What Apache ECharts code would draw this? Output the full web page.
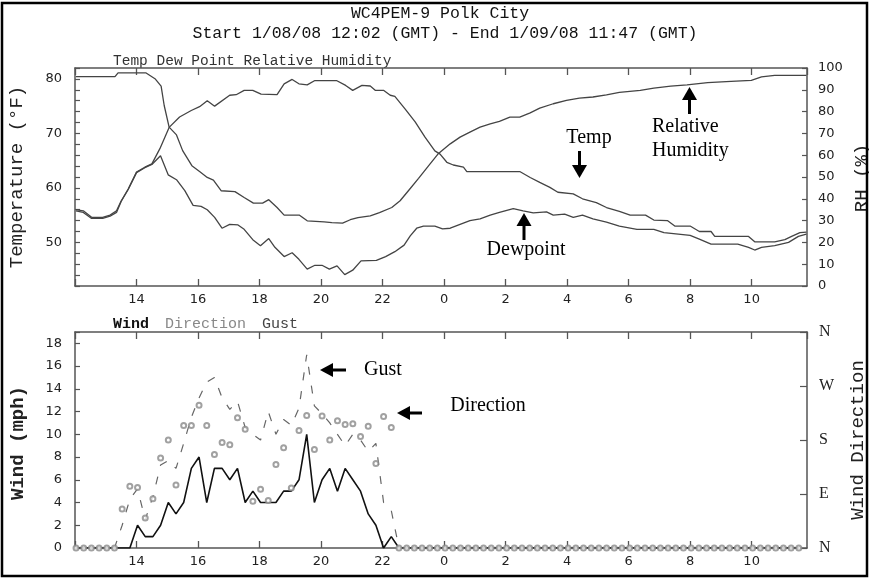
<!DOCTYPE html>
<html><head><meta charset="utf-8">
<script src="https://cdn.jsdelivr.net/npm/echarts@6/dist/echarts.min.js"></script>
<style>html,body{margin:0;padding:0;background:#fff}#c{width:869px;height:578px}</style>
</head><body><div id="c"></div>
<script>
// ---- Top panel data (hours since 1/08 00:00 GMT) ----
const tempX = [12.03,12.27,12.54,12.9,13.14,13.35,13.5,13.73,14.0,14.27,14.5,14.76,15.06,15.4,15.78,16.05,16.3,16.54,17.03,17.24,17.5,17.78,18.05,18.57,18.8,19.06,19.28,19.55,19.8,20.5,20.8,21.03,21.33,21.6,21.76,22.03,22.25,22.4,22.73,23.06,23.38,23.7,23.87,24.09,24.3,24.63,24.74,26.46,26.8,27.11,27.44,27.7,28.2,28.5,28.95,29.28,29.7,30.05,30.55,30.82,31.26,31.5,32.0,32.3,32.68,32.8,33.9,34.1,34.75,35.08,35.3,35.57,35.78];
const tempY = [56.0,55.8,54.6,54.6,55.0,55.8,57.6,59.8,62.9,63.8,64.4,67.2,71.1,73.0,74.2,74.9,76.0,75.0,77.0,77.1,77.9,77.9,77.2,77.1,79.1,79.9,79.1,78.9,79.7,79.7,78.8,77.9,78.8,78.7,77.9,77.9,77.0,76.8,74.5,72.1,69.3,66.8,66.2,64.7,64.2,63.8,63.0,63.0,61.9,61.0,60.1,59.2,58.9,58.0,57.3,56.4,55.7,55.0,55.0,54.1,54.0,53.0,53.0,52.0,52.0,51.1,51.1,50.1,50.1,50.5,51.1,51.8,51.9];

const dewX = [12.03,12.27,12.54,12.9,13.14,13.35,13.5,13.73,14.0,14.27,14.5,14.78,15.03,15.3,15.57,15.84,16.1,16.3,16.54,16.78,17.03,17.3,17.5,17.78,18.03,18.3,18.5,18.8,19.06,19.28,19.55,19.8,20.03,20.27,20.52,20.77,21.03,21.3,21.8,22.1,22.4,22.7,22.9,23.11,23.33,23.7,23.95,24.2,24.52,24.84,25.17,25.5,25.8,26.25,26.57,26.9,27.33,27.55,27.92,28.2,28.5,28.84,29.28,29.7,30.27,30.82,31.15,32.0,32.3,32.68,33.55,33.9,34.1,34.32,34.75,35.2,35.52,35.78];
const dewY = [55.8,55.5,54.4,54.4,54.8,55.5,57.5,59.7,62.8,63.7,64.3,65.9,62.4,61.5,59.5,56.8,56.6,56.0,54.6,52.6,53.3,53.2,52.4,50.5,49.4,50.7,49.1,47.4,48.1,46.9,45.1,45.8,45.8,45.1,45.7,44.1,44.9,46.6,46.7,47.4,48.3,49.5,51.2,52.6,53.0,53.0,52.5,52.6,53.3,54.0,54.3,55.0,55.5,56.2,55.8,55.4,55.6,55.0,55.2,54.6,55.0,54.3,53.7,53.0,52.4,52.4,51.8,51.3,50.6,49.7,49.7,49.1,48.6,49.1,49.4,50.0,51.1,51.5];

const rhX = [12.03,13.3,13.4,14.3,14.6,14.8,14.9,15.06,15.3,15.5,15.8,16.05,16.3,16.5,16.75,17.2,17.5,17.8,18.1,18.3,18.57,18.8,19.3,19.55,20.1,20.35,20.7,20.95,21.2,21.6,21.9,22.3,22.57,22.84,23.17,23.5,23.8,24.2,24.52,24.84,25.17,25.5,25.8,26.14,26.46,26.8,27.11,27.55,27.98,28.4,28.84,29.28,29.7,30.38,30.82,31.37,31.9,32.57,33.33,33.99,34.32,34.75,35.78];
const rhY = [96.0,96.0,97.8,97.8,95.1,91.7,82.8,72.9,69.3,62.1,55.2,52.5,49.8,48.6,43.7,43.3,40.6,38.0,38.0,39.6,36.0,32.5,32.5,29.9,29.4,29.1,28.8,30.4,31.4,32.2,33.7,36.0,39.1,43.7,49.4,55.2,60.5,65.2,68.3,70.6,72.9,74.4,75.5,77.5,77.5,79.4,81.6,83.6,85.1,86.2,86.7,87.7,88.8,89.7,90.8,91.7,92.3,93.3,93.9,94.3,95.9,96.6,96.6];

// ---- Bottom panel data: one reading every 15 minutes from 12:02 ----
const sampleStart = 12 + 2/60;
const sampleStep = 0.25;
const windSpeed = [0,0,0,0,0,0,0,0,2,1,1,2,4,3,4,7,8,4,7,7,6,7,4,5,4,4,4,5,5,6,10,4,6,7,5,7,6,5,3,2,0,1,0,
  0,0,0,0,0,0,0,0,0,0,0,0,0,0,0,0,0,0,0,0,0,0,0,0,0,0,0,0,0,0,0,0,0,0,0,0,0,0,0,0,0,0,0,0,0,0,0,0,0,0,0,0];
const windGust = [0,0,0,0,0,0,2,4.3,5.2,2.5,4.5,7.3,7.7,7,9.2,11.5,13.2,14.6,15,13.2,12.2,12.9,10.6,10,9.5,12,10,11.3,10.8,12.3,17,12.5,11.8,11,10,9,10,9.5,8.5,9.2,4,3.3,0,
  0,0,0,0,0,0,0,0,0,0,0,0,0,0,0,0,0,0,0,0,0,0,0,0,0,0,0,0,0,0,0,0,0,0,0,0,0,0,0,0,0,0,0,0,0,0,0,0,0,0,0,0];
const windDir = [0,0,0,0,0,0,65,103,101,50,82,150,180,105,204,204,238,204,156,176,172,217,198,78,98,79,139,167,100,196,221,164,220,180,212,206,207,186,203,141,219,201,
  0,0,0,0,0,0,0,0,0,0,0,0,0,0,0,0,0,0,0,0,0,0,0,0,0,0,0,0,0,0,0,0,0,0,0,0,0,0,0,0,0,0,0,0,0,0,0,0,0,0,0,0,0,0];

const dirLabels = {0:'N', 90:'E', 180:'S', 270:'W', 360:'N'};
const titleLine1 = 'WC4PEM-9 Polk City';
const titleLine2 = 'Start 1/08/08 12:02 (GMT) - End 1/09/08 11:47 (GMT)';

const zip = (xs, ys) => xs.map((x, i) => [x, ys[i]]);
const sampleX = windSpeed.map((_, i) => sampleStart + sampleStep * i);

const mono = '"Liberation Mono", "DejaVu Sans Mono", monospace';
const tickFont = {fontFamily: '"DejaVu Sans", sans-serif', fontSize: 13, color: '#222'};

function xLabel(v) {
  if (Math.abs(v - Math.round(v)) > 1e-6 || Math.round(v) === 12) return '';
  return String(Math.round(v) % 24);
}
function xAxes(grid) {
  const base = {gridIndex: grid, type: 'value', min: 12, max: 35.8, interval: 2,
    splitLine: {show: false},
    axisLine: {show: true, onZero: false, lineStyle: {color: '#555', width: 1.5}},
    axisTick: {show: true, inside: true, length: 7, lineStyle: {color: '#555', width: 1.3}}};
  return [
    Object.assign({}, base, {position: 'bottom', axisLabel: Object.assign({formatter: xLabel, margin: 7, showMaxLabel: false}, tickFont)}),
    Object.assign({}, base, {position: 'top', axisLabel: {show: false}})
  ];
}
const yBase = {type: 'value', splitLine: {show: false},
  axisLine: {show: true, onZero: false, lineStyle: {color: '#555', width: 1.5}},
  axisTick: {show: true, inside: true, length: 5, lineStyle: {color: '#555', width: 1.2}}};

const chart = echarts.init(document.getElementById('c'));
chart.setOption({
  animation: false,
  backgroundColor: '#fff',
  grid: [
    {left: 75, right: 62, top: 68, height: 218},
    {left: 75, right: 62, top: 332, height: 216}
  ],
  xAxis: [...xAxes(0), ...xAxes(1)],
  yAxis: [
    Object.assign({}, yBase, {gridIndex: 0, position: 'left', min: 42, max: 82, interval: 2,
      axisLabel: Object.assign({margin: 13, formatter: v => (v % 10 === 0 ? String(v) : '')}, tickFont)}),
    Object.assign({}, yBase, {gridIndex: 0, position: 'right', min: 0, max: 100, interval: 10,
      axisLabel: Object.assign({margin: 11}, tickFont)}),
    Object.assign({}, yBase, {gridIndex: 1, position: 'left', min: 0, max: 19, interval: 2,
      axisLabel: Object.assign({margin: 13, formatter: v => (v <= 18 ? String(v) : '')}, tickFont)}),
    Object.assign({}, yBase, {gridIndex: 1, position: 'right', min: 0, max: 360, interval: 90,
      axisTick: {show: true, inside: true, length: 7, lineStyle: {color: '#555', width: 1.2}},
      axisLabel: {margin: 12, formatter: v => dirLabels[v] || '', fontFamily: '"Liberation Serif", serif', fontSize: 16, color: '#222'}})
  ],
  series: [
    {type: 'line', xAxisIndex: 0, yAxisIndex: 0, data: zip(tempX, tempY), showSymbol: false,
      lineStyle: {color: '#444', width: 1.3}},
    {type: 'line', xAxisIndex: 0, yAxisIndex: 0, data: zip(dewX, dewY), showSymbol: false,
      lineStyle: {color: '#444', width: 1.3}},
    {type: 'line', xAxisIndex: 0, yAxisIndex: 1, data: zip(rhX, rhY), showSymbol: false,
      lineStyle: {color: '#444', width: 1.3}},
    {type: 'line', xAxisIndex: 2, yAxisIndex: 2, data: zip(sampleX, windGust), showSymbol: false,
      lineStyle: {color: '#666', width: 1.2, type: [8, 11]}},
    {type: 'line', xAxisIndex: 2, yAxisIndex: 2, data: zip(sampleX, windSpeed), showSymbol: false,
      lineStyle: {color: '#111', width: 1.6}},
    {type: 'scatter', xAxisIndex: 2, yAxisIndex: 3, data: zip(sampleX, windDir), symbol: 'emptyCircle', symbolSize: 5,
      itemStyle: {color: '#8a8a8a', borderWidth: 0.9}, z: 5}
  ],
  graphic: [
    {type: 'rect', shape: {x: 2, y: 3, width: 865, height: 573}, style: {fill: 'none', stroke: '#000', lineWidth: 2.5}, z: 100},
    {type: 'text', x: 440, y: 14, style: {text: titleLine1, font: '16.5px ' + mono, fill: '#111', textAlign: 'center', textVerticalAlign: 'middle'}},
    {type: 'text', x: 445, y: 34, style: {text: titleLine2, font: '16.5px ' + mono, fill: '#111', textAlign: 'center', textVerticalAlign: 'middle'}},
    {type: 'text', x: 113, y: 61, style: {text: 'Temp Dew Point Relative Humidity', font: '14.5px ' + mono, fill: '#333', textAlign: 'left', textVerticalAlign: 'middle'}},
    {type: 'text', x: 113, y: 324, style: {text: '{a|Wind}{s| }{b|Direction}{s| }{c|Gust}', textAlign: 'left', textVerticalAlign: 'middle',
      rich: {a: {font: 'bold 15px ' + mono, fill: '#111'}, s: {font: '15px ' + mono, fill: '#111', width: 16}, b: {font: '15px ' + mono, fill: '#888'}, c: {font: '15px ' + mono, fill: '#444'}}}},
    {type: 'text', x: 17, y: 177, rotation: Math.PI / 2, style: {text: 'Temperature (°F)', font: '19px ' + mono, fill: '#222', textAlign: 'center', textVerticalAlign: 'middle'}},
    {type: 'text', x: 862, y: 178, rotation: Math.PI / 2, style: {text: 'RH (%)', font: '19px ' + mono, fill: '#222', textAlign: 'center', textVerticalAlign: 'middle'}},
    {type: 'text', x: 18, y: 443, rotation: Math.PI / 2, style: {text: 'Wind (mph)', font: 'bold 19px ' + mono, fill: '#222', textAlign: 'center', textVerticalAlign: 'middle'}},
    {type: 'text', x: 858, y: 440, rotation: Math.PI / 2, style: {text: 'Wind Direction', font: '19px ' + mono, fill: '#222', textAlign: 'center', textVerticalAlign: 'middle'}},
    // annotations
    {type: 'text', x: 589, y: 138, style: {text: 'Temp', font: '20px "Liberation Serif", serif', fill: '#000', textAlign: 'center', textVerticalAlign: 'middle'}},
    {type: 'rect', shape: {x: 578, y: 151, width: 3, height: 15}, style: {fill: '#000'}},
    {type: 'polygon', shape: {points: [[572, 165], [587, 165], [579.5, 178]]}, style: {fill: '#000'}},
    {type: 'text', x: 526, y: 250, style: {text: 'Dewpoint', font: '20px "Liberation Serif", serif', fill: '#000', textAlign: 'center', textVerticalAlign: 'middle'}},
    {type: 'rect', shape: {x: 522.5, y: 225, width: 3, height: 15}, style: {fill: '#000'}},
    {type: 'polygon', shape: {points: [[516.5, 226], [531.5, 226], [524, 213]]}, style: {fill: '#000'}},
    {type: 'text', x: 652, y: 127, style: {text: 'Relative', font: '20px "Liberation Serif", serif', fill: '#000', textAlign: 'left', textVerticalAlign: 'middle'}},
    {type: 'text', x: 652, y: 151, style: {text: 'Humidity', font: '20px "Liberation Serif", serif', fill: '#000', textAlign: 'left', textVerticalAlign: 'middle'}},
    {type: 'rect', shape: {x: 688, y: 99, width: 3, height: 15}, style: {fill: '#000'}},
    {type: 'polygon', shape: {points: [[682, 100], [697, 100], [689.5, 87]]}, style: {fill: '#000'}},
    {type: 'text', x: 383, y: 370, style: {text: 'Gust', font: '20px "Liberation Serif", serif', fill: '#000', textAlign: 'center', textVerticalAlign: 'middle'}},
    {type: 'rect', shape: {x: 331, y: 368.5, width: 15, height: 3}, style: {fill: '#000'}},
    {type: 'polygon', shape: {points: [[320, 370], [333, 363], [333, 377]]}, style: {fill: '#000'}},
    {type: 'text', x: 488, y: 406, style: {text: 'Direction', font: '20px "Liberation Serif", serif', fill: '#000', textAlign: 'center', textVerticalAlign: 'middle'}},
    {type: 'rect', shape: {x: 408, y: 411.5, width: 14, height: 3}, style: {fill: '#000'}},
    {type: 'polygon', shape: {points: [[397, 413], [410, 406], [410, 420]]}, style: {fill: '#000'}}
  ]
});
</script>
</body></html>
